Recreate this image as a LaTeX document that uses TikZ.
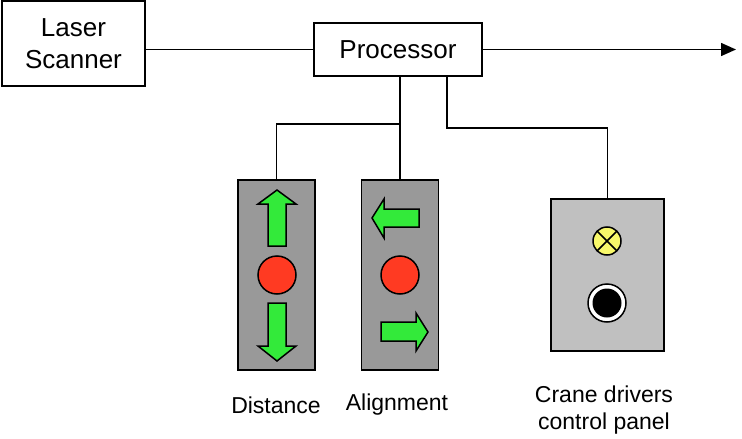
\documentclass[tikz,border=0pt]{standalone}
\usepackage{fontspec}
\setmainfont{Liberation Sans}
\usetikzlibrary{arrows.meta}

\definecolor{lightdark}{HTML}{999999}
\definecolor{panelgray}{HTML}{C0C0C0}
\definecolor{signalgreen}{HTML}{33EA3A}
\definecolor{signalred}{HTML}{FF3A22}
\definecolor{lampyellow}{HTML}{F8F86A}

\begin{document}
\begin{tikzpicture}[x=1pt, y=-1pt, line width=1.5pt,
    box/.style={draw, fill=white, align=center, inner sep=2pt,
      font=\fontsize{26}{32}\selectfont},
    light/.style={draw, inner sep=0pt},
    caption/.style={align=center, font=\fontsize{23}{27}\selectfont},
    greenarrow/.style={draw, fill=signalgreen, line join=miter},
    redlamp/.style={draw, fill=signalred}]
  \useasboundingbox (0,0) rectangle (742,439);

  % boxes
  \node[box, minimum width=143pt, minimum height=85pt] (laser) at (73.5,43.5) {Laser\\Scanner};
  \node[box, minimum width=168pt, minimum height=53pt] (proc) at (398,49.5) {Processor};
  \coordinate (out) at (736,49.5);

  % signal lights and panel
  \node[light, fill=lightdark, minimum width=77pt, minimum height=190pt] (dist) at (276.5,275) {};
  \node[light, fill=lightdark, minimum width=77pt, minimum height=190pt] (align) at (400,275) {};
  \node[light, fill=panelgray, minimum width=113pt, minimum height=152pt] (panel) at (607.5,275) {};

  % connectors
  \draw (laser.east |- proc.west) -- (proc.west);
  \draw[-{Triangle[length=15pt,width=13pt]}] (proc.east) -- (out);
  \coordinate (split) at (400,124);
  \coordinate (tap) at (447,128);
  \draw (split |- proc.south) -- (align.north);
  \draw (split) -| (dist.north);
  \draw (tap |- proc.south) -- (tap) -| (panel.north);

  % distance light
  \draw[greenarrow] (268,246) -- (268,204) -- (258,204) -- (277,190) -- (296,204) -- (286,204) -- (286,246) -- cycle;
  \draw[redlamp] (277,275) circle (19);
  \draw[greenarrow] (268,303) -- (268,346) -- (258,346) -- (277,361) -- (296,346) -- (286,346) -- (286,303) -- cycle;

  % alignment light
  \draw[greenarrow] (419,209) -- (384,209) -- (384,199) -- (372,218) -- (384,238) -- (384,227) -- (419,227) -- cycle;
  \draw[redlamp] (400,275) circle (19);
  \draw[greenarrow] (381,322) -- (416,322) -- (416,313) -- (428,332) -- (416,351) -- (416,341) -- (381,341) -- cycle;

  % crane panel
  \draw[fill=lampyellow] (607,241) circle (14);
  \draw (607,241) ++(-9.9,-9.9) -- ++(19.8,19.8);
  \draw (607,241) ++(-9.9,9.9) -- ++(19.8,-19.8);
  \draw[fill=white] (607,303) circle (19);
  \fill (607,303) circle (14.5);

  % captions
  \node[caption] (distlabel) at (276,405) {Distance};
  \node[caption] (alignlabel) at (397,405) {Alignment};
  \node[caption] (panellabel) at (604,410) {Crane drivers\\control panel};
\end{tikzpicture}
\end{document}
